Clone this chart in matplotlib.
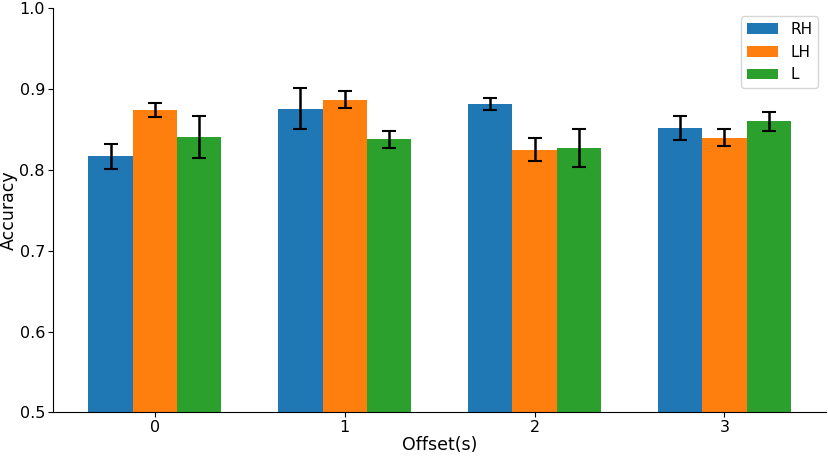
import matplotlib
matplotlib.use("Agg")
import matplotlib.pyplot as plt
import numpy as np

offsets = ["0", "1", "2", "3"]
series = ["RH", "LH", "L"]
rh_mean = [0.817, 0.876, 0.882, 0.852]
lh_mean = [0.874, 0.887, 0.825, 0.840]
l_mean = [0.841, 0.838, 0.827, 0.860]
rh_err = [0.0155, 0.0254, 0.0075, 0.0152]
lh_err = [0.0083, 0.0101, 0.0143, 0.0105]
l_err = [0.0259, 0.0107, 0.0235, 0.0120]
colors = ["#1f77b4", "#ff7f0e", "#2ca02c"]

fig = plt.figure(figsize=(8.29, 4.58), dpi=100)
ax = fig.add_axes([0.0643, 0.0998, 0.932, 0.882])

x = np.arange(len(offsets))
w = 0.7 / 3
means = [rh_mean, lh_mean, l_mean]
errs = [rh_err, lh_err, l_err]
for i, (m, e, name, c) in enumerate(zip(means, errs, series, colors)):
    ax.bar(x + (i - 1) * w, m, w, yerr=e, color=c, label=name,
           capsize=5, error_kw=dict(elinewidth=1.8, capthick=1.5, ecolor="black"))

ax.set_xticks(x)
ax.set_xticklabels(offsets)
ax.set_ylim(0.5, 1.0)
ax.set_yticks([0.5, 0.6, 0.7, 0.8, 0.9, 1.0])
ax.tick_params(labelsize=11.5)
ax.tick_params(axis="x", pad=2)
ax.tick_params(axis="y", pad=2.5)
ax.set_xlabel("Offset(s)", fontsize=12.5, labelpad=1)
ax.set_ylabel("Accuracy", fontsize=12.5, labelpad=1)
ax.spines["top"].set_visible(False)
ax.spines["right"].set_visible(False)
ax.legend(loc="upper right", fontsize=11)

fig.savefig("out.png", dpi=100)
